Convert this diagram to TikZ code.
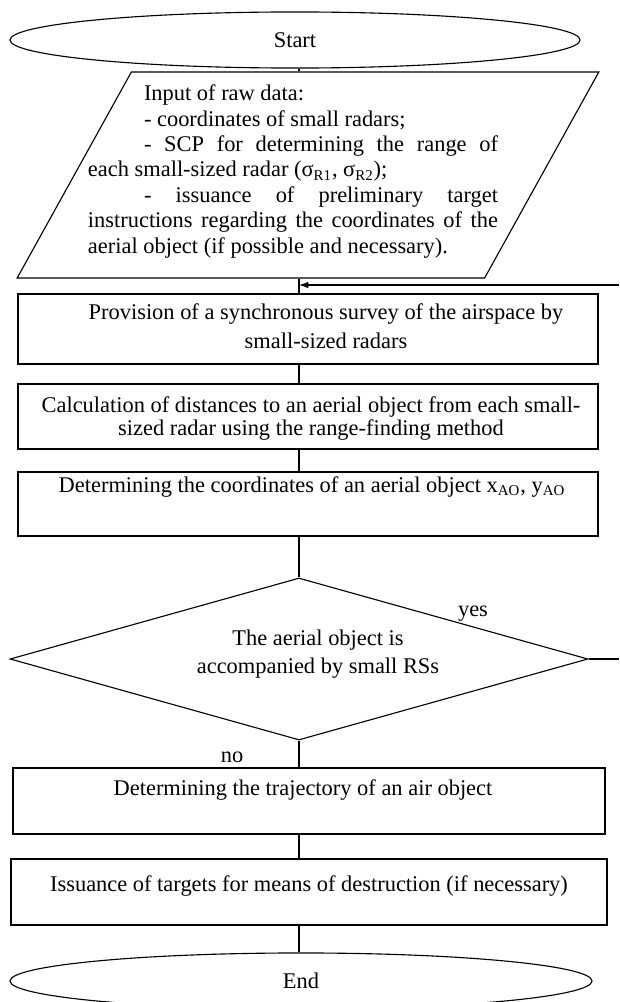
\documentclass[tikz,border=0pt]{standalone}
\usepackage{fontspec}
\setmainfont{Liberation Serif}
\usetikzlibrary{shapes.geometric,arrows.meta}

\tikzset{
  line/.style={line width=0.6pt},
  terminal/.style={line, draw, ellipse, minimum height=30pt},
  io/.style={line, draw, trapezium, trapezium left angle=61, trapezium right angle=119,
    inner xsep=94.5pt, inner ysep=55.1pt},
  block/.style={line, draw, rectangle},
  decision/.style={line, draw, diamond, minimum width=309.2pt, minimum height=86.7pt},
  txt/.style={align=center, inner sep=0pt}
}

\begin{document}
\begin{tikzpicture}[x=0.535pt, y=-0.535pt, font=\fontsize{12}{13.6}\selectfont]
  \useasboundingbox (0,0) rectangle (619,1002);
  % Spine and loose ends
  \coordinate (axis) at (299,0);
  \coordinate (loopin) at (619,285);
  \coordinate (yesout) at (619,659);
  % Terminals
  \node[terminal, minimum width=305pt] (start) at (295,40) {Start};
  \node[terminal, minimum width=311.4pt] (stop) at (301,981) {End};
  % Input data
  \node[io] (input) at (308,175) {};
  \node[txt, text width=219.4pt, align=justify] (inputtext) at (293,171.5)
    {\hspace*{30pt}Input of raw data:\par
     \hspace*{30pt}- coordinates of small radars;\par
     \hspace*{30pt}- SCP for determining the range of\linebreak
     each small-sized radar (σ\textsubscript{R1}, σ\textsubscript{R2});\par
     \hspace*{30pt}- issuance of preliminary target\linebreak
     instructions regarding the coordinates of the\linebreak
     aerial object (if possible and necessary).};
  % Blocks
  \node[block, minimum width=310.3pt, minimum height=37.5pt] (survey) at (308,329) {};
  \node[txt] (surveytext) at (326,326)
    {Provision of a synchronous survey of the airspace by\\[2pt]small-sized radars};
  \node[block, minimum width=310.3pt, minimum height=34.8pt] (ranges) at (308,416.5) {};
  \node[txt] (rangestext) at (311,418.5)
    {Calculation of distances to an aerial object from each small-\\[-1.3pt]sized radar using the range-finding method};
  \node[block, minimum width=310.3pt, minimum height=34.2pt] (coords) at (308,504) {};
  \node[txt] (coordstext) at (312,487)
    {Determining the coordinates of an aerial object x\textsubscript{AO}, y\textsubscript{AO}};
  % Decision
  \node[decision] (check) at (299,659) {};
  \node[txt] (checktext) at (318,654)
    {The aerial object is\\[1.5pt]accompanied by small RSs};
  \node (yeslabel) at (473,614) {yes};
  \node (nolabel) at (232,757) {no};
  % Output blocks
  \node[block, minimum width=316.7pt, minimum height=35.3pt] (track) at (309,801) {};
  \node[txt] (tracktext) at (303,790) {Determining the trajectory of an air object};
  \node[block, minimum width=318.9pt, minimum height=35.3pt] (issue) at (309,892) {};
  \node[txt] (issuetext) at (309,886)
    {Issuance of targets for means of destruction (if necessary)};
  % Connectors
  \draw[line] (start.south -| axis) -- (input.north -| axis);
  \draw[line] (input.south -| axis) -- (survey.north -| axis);
  \draw[line] (survey.south -| axis) -- (ranges.north -| axis);
  \draw[line] (ranges.south -| axis) -- (coords.north -| axis);
  \draw[line] (coords.south -| axis) -- (check.north);
  \draw[line] (check.south) -- (track.north -| axis);
  \draw[line] (track.south -| axis) -- (issue.north -| axis);
  \draw[line] (issue.south -| axis) -- (stop.north -| axis);
  \draw[line] (check.east) -- (yesout);
  \draw[line, -{Latex[length=5pt, width=3.5pt]}] (loopin) -- (loopin -| axis);
\end{tikzpicture}
\end{document}
